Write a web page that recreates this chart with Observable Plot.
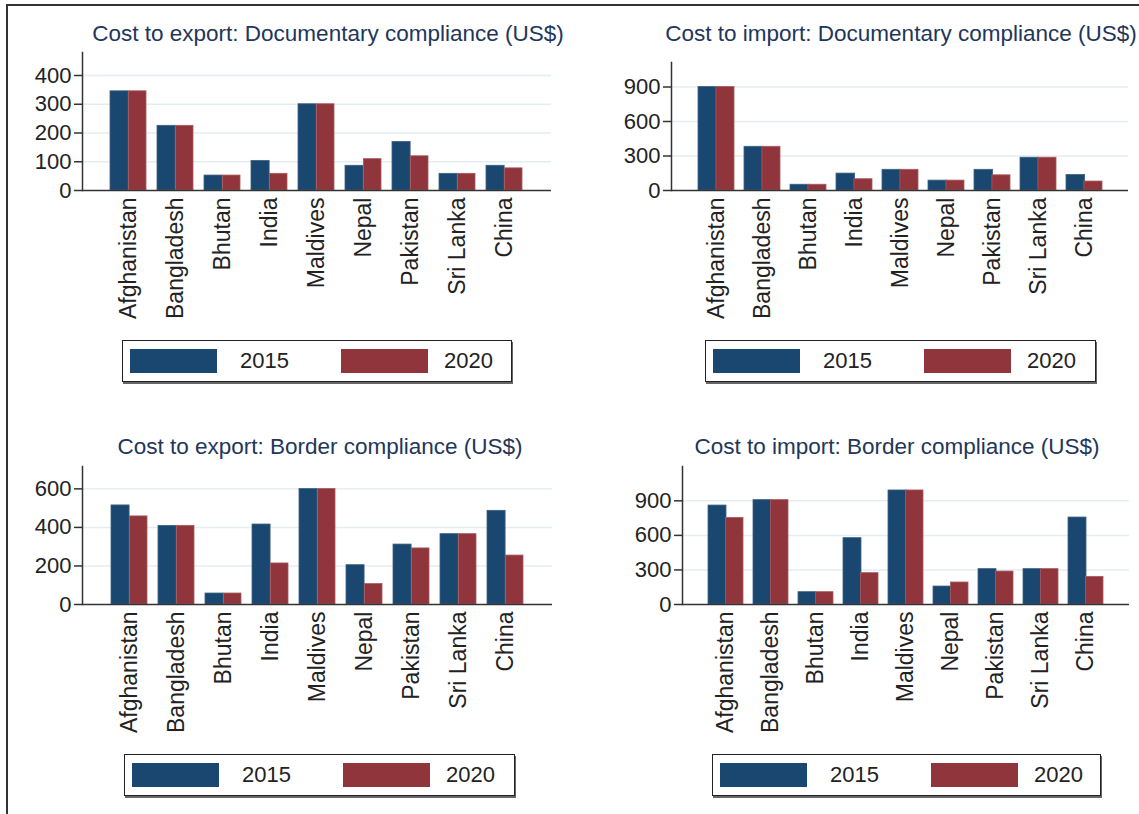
<!DOCTYPE html>
<html>
<head>
<meta charset="utf-8">
<script src="https://cdn.jsdelivr.net/npm/d3@7"></script>
<script src="https://cdn.jsdelivr.net/npm/@observablehq/plot@0.6"></script>
<style>
  html, body { margin: 0; padding: 0; background: #fff; }
  #page { position: relative; width: 1139px; height: 814px; overflow: hidden; background: #fff;
          font-family: "Liberation Sans", Arial, sans-serif; }
  .border-top { position: absolute; left: 7px; top: 4px; right: 0; height: 0; border-top: 2px solid #333; }
  .border-left { position: absolute; left: 6px; top: 4px; bottom: 0; width: 0; border-left: 2px solid #333; }
  .title { position: absolute; font-size: 22.5px; line-height: 22px; color: #22365a; white-space: nowrap; transform: translateX(-50%); }
  .chart { position: absolute; }
  .legend { position: absolute; box-sizing: border-box; height: 42px; border: 1.5px solid #222;
            box-shadow: 1px 2px 0 #666; background: #fff; }
  .legend .sw { position: absolute; top: 8px; width: 87px; height: 24px; }
  .legend .lt { position: absolute; top: 8px; font-size: 22px; line-height: 24px; color: #222; }
</style>
</head>
<body>
<div id="page">
  <div class="border-top"></div>
  <div class="border-left"></div>
</div>
<script>
// ---- data ----
const countries = ["Afghanistan", "Bangladesh", "Bhutan", "India", "Maldives", "Nepal", "Pakistan", "Sri Lanka", "China"];
const years = ["2015", "2020"];
const yearColors = ["#1a476f", "#90353b"];

const exportDoc2015 = [345, 225, 52, 103, 300, 86, 169, 58, 86];
const exportDoc2020 = [345, 225, 52, 58, 300, 109, 119, 58, 77];
const importDoc2015 = [900, 380, 50, 147, 180, 86, 180, 285, 135];
const importDoc2020 = [900, 380, 50, 98, 180, 86, 132, 285, 78];
const exportBorder2015 = [514, 408, 57, 415, 599, 204, 311, 365, 486];
const exportBorder2020 = [457, 408, 57, 213, 599, 106, 291, 365, 254];
const importBorder2015 = [859, 906, 107, 576, 990, 156, 307, 307, 755];
const importBorder2020 = [752, 906, 107, 272, 990, 191, 286, 307, 240];

const titles = [
  "Cost to export: Documentary compliance (US$)",
  "Cost to import: Documentary compliance (US$)",
  "Cost to export: Border compliance (US$)",
  "Cost to import: Border compliance (US$)"
];
const ticks1 = [0, 100, 200, 300, 400];
const ticks2 = [0, 300, 600, 900];
const ticks3 = [0, 200, 400, 600];
const ticks4 = [0, 300, 600, 900];
const ymax = [480, 1113, 716, 1198];

// ---- layout ----
const panels = [
  {title: titles[0], v15: exportDoc2015, v20: exportDoc2020, ticks: ticks1, ymax: ymax[0],
   left: 0, top: 40, mL: 82, mR: 18, mT: 12, titleX: 328, titleY: 23, legend: {x: 122, y: 340, w: 390}},
  {title: titles[1], v15: importDoc2015, v20: importDoc2020, ticks: ticks2, ymax: ymax[1],
   left: 570, top: 40, mL: 101, mR: 11, mT: 22, titleX: 901, titleY: 23, legend: {x: 705, y: 340, w: 391}},
  {title: titles[2], v15: exportBorder2015, v20: exportBorder2020, ticks: ticks3, ymax: ymax[2],
   left: 0, top: 454, mL: 82, mR: 17, mT: 12, titleX: 320, titleY: 436, legend: {x: 124, y: 754, w: 391}},
  {title: titles[3], v15: importBorder2015, v20: importBorder2020, ticks: ticks4, ymax: ymax[3],
   left: 570, top: 454, mL: 112, mR: 10, mT: 12, titleX: 897, titleY: 436, legend: {x: 712, y: 754, w: 389}}
];

const W = 569, H = 290, mB = 140;
const pIn = 0.225, pOut = 0.56;
const page = document.getElementById("page");

for (const p of panels) {
  const rows15 = countries.map((c, i) => ({country: c, year: years[0], value: p.v15[i]}));
  const rows20 = countries.map((c, i) => ({country: c, year: years[1], value: p.v20[i]}));
  const step = (W - p.mL - p.mR) / (countries.length - pIn + 2 * pOut);
  const half = step * (1 - pIn) / 2;

  const chart = Plot.plot({
    width: W, height: H,
    marginLeft: p.mL, marginRight: p.mR, marginTop: p.mT, marginBottom: mB,
    style: {fontFamily: "'Liberation Sans', Arial, sans-serif", fontSize: "22px", color: "#222", background: "transparent", overflow: "visible"},
    x: {domain: countries, paddingInner: pIn, paddingOuter: pOut, label: null},
    y: {domain: [0, p.ymax], label: null},
    marks: [
      Plot.gridY(p.ticks.slice(1), {stroke: "#e4edf0", strokeOpacity: 1, strokeWidth: 1.5}),
      Plot.barY(rows15, {x: "country", y: "value", fill: yearColors[0], stroke: "#3d6283", strokeWidth: 0.8, insetLeft: 0, insetRight: half - 0.5}),
      Plot.barY(rows20, {x: "country", y: "value", fill: yearColors[1], stroke: "#a95a5f", strokeWidth: 0.8, insetLeft: half, insetRight: 0}),
      Plot.ruleY([0], {stroke: "#333", strokeWidth: 1.5}),
      Plot.frame({anchor: "left", stroke: "#333", strokeWidth: 1.5}),
      Plot.axisY(p.ticks, {tickSize: 8, tickPadding: 3, label: null, fontSize: 22, stroke: "#333", strokeWidth: 1.5}),
      Plot.axisX({tickSize: 0, tickRotate: -90, tickPadding: 7, label: null, fontSize: 23})
    ]
  });
  chart.classList.add("chart");
  chart.style.left = p.left + "px";
  chart.style.top = p.top + "px";
  page.appendChild(chart);

  const t = document.createElement("div");
  t.className = "title";
  t.textContent = p.title;
  t.style.left = p.titleX + "px";
  t.style.top = p.titleY + "px";
  page.appendChild(t);

  const lg = document.createElement("div");
  lg.className = "legend";
  lg.style.left = p.legend.x + "px";
  lg.style.top = p.legend.y + "px";
  lg.style.width = p.legend.w + "px";
  const offs = [[7, 117], [218, 321]];
  years.forEach((y, i) => {
    const sw = document.createElement("div");
    sw.className = "sw";
    sw.style.left = offs[i][0] + "px";
    sw.style.background = yearColors[i];
    lg.appendChild(sw);
    const lt = document.createElement("div");
    lt.className = "lt";
    lt.style.left = offs[i][1] + "px";
    lt.textContent = y;
    lg.appendChild(lt);
  });
  page.appendChild(lg);
}
</script>
</body>
</html>
